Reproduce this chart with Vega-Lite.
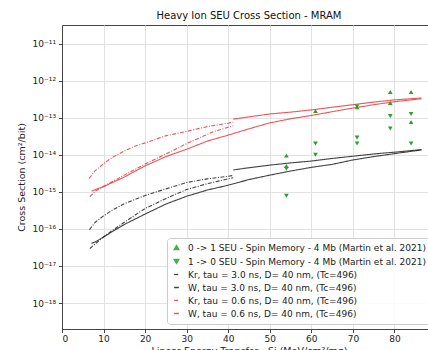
{
  "$schema": "https://vega.github.io/schema/vega-lite/v6.json",
  "autosize": {"type": "none"},
  "padding": {"left": 62, "top": 25, "right": 0, "bottom": 21},
  "width": 374,
  "height": 304,
  "background": "white",
  "title": {"text": "Heavy Ion SEU Cross Section - MRAM", "font": "DejaVu Sans", "fontSize": 10, "fontWeight": "normal", "color": "#111", "offset": 4},
  "config": {
    "view": {"stroke": "#444", "strokeWidth": 1},
    "axis": {"labelFont": "DejaVu Sans", "labelFontSize": 9, "labelColor": "#222", "titleFont": "DejaVu Sans", "titleFontSize": 9.5, "titleFontWeight": "normal", "titleColor": "#222", "tickColor": "#444", "domainColor": "#444", "gridColor": "#e2e2e2", "gridWidth": 1, "tickSize": 3.5, "labelPadding": 2},
    "legend": {"labelFont": "DejaVu Sans", "labelFontSize": 9, "labelColor": "#222", "labelLimit": 400, "orient": "bottom-right", "offset": 5, "padding": 5, "rowPadding": 3, "labelOffset": 7, "symbolStrokeWidth": 1.3,
      "fillColor": "rgba(255,255,255,0.85)", "strokeColor": "#cccccc", "cornerRadius": 3}
  },
  "datasets": {
    "lines": [
      {"series": "Kr, tau = 3.0 ns, D= 40 nm, (Tc=496)", "curve": "a", "let": 6.6, "xs": 9.55e-17},
      {"series": "Kr, tau = 3.0 ns, D= 40 nm, (Tc=496)", "curve": "a", "let": 8, "xs": 1.51e-16},
      {"series": "Kr, tau = 3.0 ns, D= 40 nm, (Tc=496)", "curve": "a", "let": 10, "xs": 2.24e-16},
      {"series": "Kr, tau = 3.0 ns, D= 40 nm, (Tc=496)", "curve": "a", "let": 12, "xs": 3.16e-16},
      {"series": "Kr, tau = 3.0 ns, D= 40 nm, (Tc=496)", "curve": "a", "let": 15, "xs": 4.79e-16},
      {"series": "Kr, tau = 3.0 ns, D= 40 nm, (Tc=496)", "curve": "a", "let": 20, "xs": 7.94e-16},
      {"series": "Kr, tau = 3.0 ns, D= 40 nm, (Tc=496)", "curve": "a", "let": 25, "xs": 1.20e-15},
      {"series": "Kr, tau = 3.0 ns, D= 40 nm, (Tc=496)", "curve": "a", "let": 30, "xs": 1.78e-15},
      {"series": "Kr, tau = 3.0 ns, D= 40 nm, (Tc=496)", "curve": "a", "let": 35, "xs": 2.24e-15},
      {"series": "Kr, tau = 3.0 ns, D= 40 nm, (Tc=496)", "curve": "a", "let": 40, "xs": 2.63e-15},
      {"series": "Kr, tau = 3.0 ns, D= 40 nm, (Tc=496)", "curve": "a", "let": 41.2, "xs": 2.75e-15},
      {"series": "Kr, tau = 3.0 ns, D= 40 nm, (Tc=496)", "curve": "b", "let": 6.7, "xs": 2.95e-17},
      {"series": "Kr, tau = 3.0 ns, D= 40 nm, (Tc=496)", "curve": "b", "let": 8, "xs": 3.98e-17},
      {"series": "Kr, tau = 3.0 ns, D= 40 nm, (Tc=496)", "curve": "b", "let": 10, "xs": 6.03e-17},
      {"series": "Kr, tau = 3.0 ns, D= 40 nm, (Tc=496)", "curve": "b", "let": 12, "xs": 8.91e-17},
      {"series": "Kr, tau = 3.0 ns, D= 40 nm, (Tc=496)", "curve": "b", "let": 15, "xs": 1.51e-16},
      {"series": "Kr, tau = 3.0 ns, D= 40 nm, (Tc=496)", "curve": "b", "let": 20, "xs": 3.55e-16},
      {"series": "Kr, tau = 3.0 ns, D= 40 nm, (Tc=496)", "curve": "b", "let": 25, "xs": 6.61e-16},
      {"series": "Kr, tau = 3.0 ns, D= 40 nm, (Tc=496)", "curve": "b", "let": 30, "xs": 1.15e-15},
      {"series": "Kr, tau = 3.0 ns, D= 40 nm, (Tc=496)", "curve": "b", "let": 35, "xs": 1.66e-15},
      {"series": "Kr, tau = 3.0 ns, D= 40 nm, (Tc=496)", "curve": "b", "let": 40, "xs": 2.24e-15},
      {"series": "Kr, tau = 3.0 ns, D= 40 nm, (Tc=496)", "curve": "b", "let": 41.2, "xs": 2.40e-15},
      {"series": "W, tau = 3.0 ns, D= 40 nm, (Tc=496)", "curve": "c", "let": 7.1, "xs": 4.07e-17},
      {"series": "W, tau = 3.0 ns, D= 40 nm, (Tc=496)", "curve": "c", "let": 8, "xs": 4.47e-17},
      {"series": "W, tau = 3.0 ns, D= 40 nm, (Tc=496)", "curve": "c", "let": 10, "xs": 6.03e-17},
      {"series": "W, tau = 3.0 ns, D= 40 nm, (Tc=496)", "curve": "c", "let": 12, "xs": 8.32e-17},
      {"series": "W, tau = 3.0 ns, D= 40 nm, (Tc=496)", "curve": "c", "let": 15, "xs": 1.32e-16},
      {"series": "W, tau = 3.0 ns, D= 40 nm, (Tc=496)", "curve": "c", "let": 20, "xs": 2.51e-16},
      {"series": "W, tau = 3.0 ns, D= 40 nm, (Tc=496)", "curve": "c", "let": 25, "xs": 4.68e-16},
      {"series": "W, tau = 3.0 ns, D= 40 nm, (Tc=496)", "curve": "c", "let": 30, "xs": 7.59e-16},
      {"series": "W, tau = 3.0 ns, D= 40 nm, (Tc=496)", "curve": "c", "let": 35, "xs": 1.12e-15},
      {"series": "W, tau = 3.0 ns, D= 40 nm, (Tc=496)", "curve": "c", "let": 40, "xs": 1.51e-15},
      {"series": "W, tau = 3.0 ns, D= 40 nm, (Tc=496)", "curve": "c", "let": 45, "xs": 2.14e-15},
      {"series": "W, tau = 3.0 ns, D= 40 nm, (Tc=496)", "curve": "c", "let": 50, "xs": 2.82e-15},
      {"series": "W, tau = 3.0 ns, D= 40 nm, (Tc=496)", "curve": "c", "let": 55, "xs": 3.63e-15},
      {"series": "W, tau = 3.0 ns, D= 40 nm, (Tc=496)", "curve": "c", "let": 60, "xs": 4.57e-15},
      {"series": "W, tau = 3.0 ns, D= 40 nm, (Tc=496)", "curve": "c", "let": 65, "xs": 5.50e-15},
      {"series": "W, tau = 3.0 ns, D= 40 nm, (Tc=496)", "curve": "c", "let": 70, "xs": 7.24e-15},
      {"series": "W, tau = 3.0 ns, D= 40 nm, (Tc=496)", "curve": "c", "let": 75, "xs": 8.91e-15},
      {"series": "W, tau = 3.0 ns, D= 40 nm, (Tc=496)", "curve": "c", "let": 80, "xs": 1.07e-14},
      {"series": "W, tau = 3.0 ns, D= 40 nm, (Tc=496)", "curve": "c", "let": 86.5, "xs": 1.35e-14},
      {"series": "W, tau = 3.0 ns, D= 40 nm, (Tc=496)", "curve": "d", "let": 41.2, "xs": 3.89e-15},
      {"series": "W, tau = 3.0 ns, D= 40 nm, (Tc=496)", "curve": "d", "let": 45, "xs": 4.47e-15},
      {"series": "W, tau = 3.0 ns, D= 40 nm, (Tc=496)", "curve": "d", "let": 50, "xs": 5.25e-15},
      {"series": "W, tau = 3.0 ns, D= 40 nm, (Tc=496)", "curve": "d", "let": 55, "xs": 6.03e-15},
      {"series": "W, tau = 3.0 ns, D= 40 nm, (Tc=496)", "curve": "d", "let": 60, "xs": 6.76e-15},
      {"series": "W, tau = 3.0 ns, D= 40 nm, (Tc=496)", "curve": "d", "let": 65, "xs": 7.94e-15},
      {"series": "W, tau = 3.0 ns, D= 40 nm, (Tc=496)", "curve": "d", "let": 70, "xs": 9.12e-15},
      {"series": "W, tau = 3.0 ns, D= 40 nm, (Tc=496)", "curve": "d", "let": 75, "xs": 1.05e-14},
      {"series": "W, tau = 3.0 ns, D= 40 nm, (Tc=496)", "curve": "d", "let": 80, "xs": 1.17e-14},
      {"series": "W, tau = 3.0 ns, D= 40 nm, (Tc=496)", "curve": "d", "let": 86.5, "xs": 1.38e-14},
      {"series": "Kr, tau = 0.6 ns, D= 40 nm, (Tc=496)", "curve": "e", "let": 6.5, "xs": 2.29e-15},
      {"series": "Kr, tau = 0.6 ns, D= 40 nm, (Tc=496)", "curve": "e", "let": 8, "xs": 3.72e-15},
      {"series": "Kr, tau = 0.6 ns, D= 40 nm, (Tc=496)", "curve": "e", "let": 10, "xs": 5.75e-15},
      {"series": "Kr, tau = 0.6 ns, D= 40 nm, (Tc=496)", "curve": "e", "let": 12, "xs": 8.32e-15},
      {"series": "Kr, tau = 0.6 ns, D= 40 nm, (Tc=496)", "curve": "e", "let": 15, "xs": 1.26e-14},
      {"series": "Kr, tau = 0.6 ns, D= 40 nm, (Tc=496)", "curve": "e", "let": 17.5, "xs": 1.70e-14},
      {"series": "Kr, tau = 0.6 ns, D= 40 nm, (Tc=496)", "curve": "e", "let": 20, "xs": 2.09e-14},
      {"series": "Kr, tau = 0.6 ns, D= 40 nm, (Tc=496)", "curve": "e", "let": 25, "xs": 3.24e-14},
      {"series": "Kr, tau = 0.6 ns, D= 40 nm, (Tc=496)", "curve": "e", "let": 30, "xs": 4.27e-14},
      {"series": "Kr, tau = 0.6 ns, D= 40 nm, (Tc=496)", "curve": "e", "let": 35, "xs": 5.75e-14},
      {"series": "Kr, tau = 0.6 ns, D= 40 nm, (Tc=496)", "curve": "e", "let": 40, "xs": 7.08e-14},
      {"series": "Kr, tau = 0.6 ns, D= 40 nm, (Tc=496)", "curve": "e", "let": 41.2, "xs": 7.59e-14},
      {"series": "Kr, tau = 0.6 ns, D= 40 nm, (Tc=496)", "curve": "f", "let": 6.7, "xs": 7.41e-16},
      {"series": "Kr, tau = 0.6 ns, D= 40 nm, (Tc=496)", "curve": "f", "let": 8, "xs": 1.05e-15},
      {"series": "Kr, tau = 0.6 ns, D= 40 nm, (Tc=496)", "curve": "f", "let": 10, "xs": 1.41e-15},
      {"series": "Kr, tau = 0.6 ns, D= 40 nm, (Tc=496)", "curve": "f", "let": 15, "xs": 2.82e-15},
      {"series": "Kr, tau = 0.6 ns, D= 40 nm, (Tc=496)", "curve": "f", "let": 20, "xs": 5.62e-15},
      {"series": "Kr, tau = 0.6 ns, D= 40 nm, (Tc=496)", "curve": "f", "let": 25, "xs": 1.05e-14},
      {"series": "Kr, tau = 0.6 ns, D= 40 nm, (Tc=496)", "curve": "f", "let": 30, "xs": 2.0e-14},
      {"series": "Kr, tau = 0.6 ns, D= 40 nm, (Tc=496)", "curve": "f", "let": 36.4, "xs": 4.17e-14},
      {"series": "Kr, tau = 0.6 ns, D= 40 nm, (Tc=496)", "curve": "f", "let": 40, "xs": 5.50e-14},
      {"series": "Kr, tau = 0.6 ns, D= 40 nm, (Tc=496)", "curve": "f", "let": 41.2, "xs": 6.03e-14},
      {"series": "W, tau = 0.6 ns, D= 40 nm, (Tc=496)", "curve": "g", "let": 7.1, "xs": 1.05e-15},
      {"series": "W, tau = 0.6 ns, D= 40 nm, (Tc=496)", "curve": "g", "let": 10, "xs": 1.38e-15},
      {"series": "W, tau = 0.6 ns, D= 40 nm, (Tc=496)", "curve": "g", "let": 15, "xs": 2.51e-15},
      {"series": "W, tau = 0.6 ns, D= 40 nm, (Tc=496)", "curve": "g", "let": 20, "xs": 5.01e-15},
      {"series": "W, tau = 0.6 ns, D= 40 nm, (Tc=496)", "curve": "g", "let": 25, "xs": 8.91e-15},
      {"series": "W, tau = 0.6 ns, D= 40 nm, (Tc=496)", "curve": "g", "let": 30, "xs": 1.41e-14},
      {"series": "W, tau = 0.6 ns, D= 40 nm, (Tc=496)", "curve": "g", "let": 35, "xs": 2.34e-14},
      {"series": "W, tau = 0.6 ns, D= 40 nm, (Tc=496)", "curve": "g", "let": 40, "xs": 3.39e-14},
      {"series": "W, tau = 0.6 ns, D= 40 nm, (Tc=496)", "curve": "g", "let": 45, "xs": 5.01e-14},
      {"series": "W, tau = 0.6 ns, D= 40 nm, (Tc=496)", "curve": "g", "let": 50, "xs": 7.24e-14},
      {"series": "W, tau = 0.6 ns, D= 40 nm, (Tc=496)", "curve": "g", "let": 55, "xs": 9.33e-14},
      {"series": "W, tau = 0.6 ns, D= 40 nm, (Tc=496)", "curve": "g", "let": 60, "xs": 1.15e-13},
      {"series": "W, tau = 0.6 ns, D= 40 nm, (Tc=496)", "curve": "g", "let": 65, "xs": 1.45e-13},
      {"series": "W, tau = 0.6 ns, D= 40 nm, (Tc=496)", "curve": "g", "let": 70, "xs": 1.82e-13},
      {"series": "W, tau = 0.6 ns, D= 40 nm, (Tc=496)", "curve": "g", "let": 75, "xs": 2.24e-13},
      {"series": "W, tau = 0.6 ns, D= 40 nm, (Tc=496)", "curve": "g", "let": 80, "xs": 2.69e-13},
      {"series": "W, tau = 0.6 ns, D= 40 nm, (Tc=496)", "curve": "g", "let": 86.5, "xs": 3.24e-13},
      {"series": "W, tau = 0.6 ns, D= 40 nm, (Tc=496)", "curve": "h", "let": 41.2, "xs": 9.12e-14},
      {"series": "W, tau = 0.6 ns, D= 40 nm, (Tc=496)", "curve": "h", "let": 45, "xs": 1.05e-13},
      {"series": "W, tau = 0.6 ns, D= 40 nm, (Tc=496)", "curve": "h", "let": 50, "xs": 1.26e-13},
      {"series": "W, tau = 0.6 ns, D= 40 nm, (Tc=496)", "curve": "h", "let": 55, "xs": 1.41e-13},
      {"series": "W, tau = 0.6 ns, D= 40 nm, (Tc=496)", "curve": "h", "let": 60, "xs": 1.62e-13},
      {"series": "W, tau = 0.6 ns, D= 40 nm, (Tc=496)", "curve": "h", "let": 65, "xs": 1.91e-13},
      {"series": "W, tau = 0.6 ns, D= 40 nm, (Tc=496)", "curve": "h", "let": 70, "xs": 2.24e-13},
      {"series": "W, tau = 0.6 ns, D= 40 nm, (Tc=496)", "curve": "h", "let": 75, "xs": 2.63e-13},
      {"series": "W, tau = 0.6 ns, D= 40 nm, (Tc=496)", "curve": "h", "let": 80, "xs": 3.02e-13},
      {"series": "W, tau = 0.6 ns, D= 40 nm, (Tc=496)", "curve": "h", "let": 86.5, "xs": 3.39e-13}
    ],
    "points": [
      {"series": "0 -> 1 SEU - Spin Memory - 4 Mb (Martin et al. 2021)", "let": 54, "xs": 9.55e-15},
      {"series": "0 -> 1 SEU - Spin Memory - 4 Mb (Martin et al. 2021)", "let": 54, "xs": 5.0e-15},
      {"series": "0 -> 1 SEU - Spin Memory - 4 Mb (Martin et al. 2021)", "let": 61, "xs": 1.51e-13},
      {"series": "0 -> 1 SEU - Spin Memory - 4 Mb (Martin et al. 2021)", "let": 71, "xs": 1.9e-13},
      {"series": "0 -> 1 SEU - Spin Memory - 4 Mb (Martin et al. 2021)", "let": 79, "xs": 4.9e-13},
      {"series": "0 -> 1 SEU - Spin Memory - 4 Mb (Martin et al. 2021)", "let": 79, "xs": 2.5e-13},
      {"series": "0 -> 1 SEU - Spin Memory - 4 Mb (Martin et al. 2021)", "let": 84, "xs": 4.9e-13},
      {"series": "0 -> 1 SEU - Spin Memory - 4 Mb (Martin et al. 2021)", "let": 84, "xs": 7.6e-14},
      {"series": "1 -> 0 SEU - Spin Memory - 4 Mb (Martin et al. 2021)", "let": 54, "xs": 4.2e-15},
      {"series": "1 -> 0 SEU - Spin Memory - 4 Mb (Martin et al. 2021)", "let": 54, "xs": 7.8e-16},
      {"series": "1 -> 0 SEU - Spin Memory - 4 Mb (Martin et al. 2021)", "let": 61, "xs": 2.0e-14},
      {"series": "1 -> 0 SEU - Spin Memory - 4 Mb (Martin et al. 2021)", "let": 61, "xs": 1.0e-14},
      {"series": "1 -> 0 SEU - Spin Memory - 4 Mb (Martin et al. 2021)", "let": 71, "xs": 2.0e-13},
      {"series": "1 -> 0 SEU - Spin Memory - 4 Mb (Martin et al. 2021)", "let": 71, "xs": 2.9e-14},
      {"series": "1 -> 0 SEU - Spin Memory - 4 Mb (Martin et al. 2021)", "let": 71, "xs": 2.0e-14},
      {"series": "1 -> 0 SEU - Spin Memory - 4 Mb (Martin et al. 2021)", "let": 79, "xs": 1.1e-13},
      {"series": "1 -> 0 SEU - Spin Memory - 4 Mb (Martin et al. 2021)", "let": 79, "xs": 5.1e-14},
      {"series": "1 -> 0 SEU - Spin Memory - 4 Mb (Martin et al. 2021)", "let": 84, "xs": 1.26e-13},
      {"series": "1 -> 0 SEU - Spin Memory - 4 Mb (Martin et al. 2021)", "let": 84, "xs": 2.0e-14}
    ]
  },
  "encoding": {
    "x": {"field": "let", "type": "quantitative", "scale": {"domain": [0, 90], "nice": false, "zero": false},
      "axis": {"values": [0, 10, 20, 30, 40, 50, 60, 70, 80], "title": "Linear Energy Transfer - Si (MeV/cm²/mg)", "titlePadding": 2, "grid": true}},
    "y": {"field": "xs", "type": "quantitative", "scale": {"type": "log", "domain": [1.995e-19, 3.16e-11], "nice": false},
      "axis": {"values": [1e-18, 1e-17, 1e-16, 1e-15, 1e-14, 1e-13, 1e-12, 1e-11], "title": "Cross Section (cm²/bit)", "titlePadding": 6, "labelPadding": 3, "grid": true,
        "labelExpr": "'10⁻¹' + substring('⁰¹²³⁴⁵⁶⁷⁸⁹', -round(log(datum.value)/LN10)-10, -round(log(datum.value)/LN10)-9)"}},
    "color": {"field": "series", "type": "nominal",
      "scale": {"domain": [
        "0 -> 1 SEU - Spin Memory - 4 Mb (Martin et al. 2021)",
        "1 -> 0 SEU - Spin Memory - 4 Mb (Martin et al. 2021)",
        "Kr, tau = 3.0 ns, D= 40 nm, (Tc=496)",
        "W, tau = 3.0 ns, D= 40 nm, (Tc=496)",
        "Kr, tau = 0.6 ns, D= 40 nm, (Tc=496)",
        "W, tau = 0.6 ns, D= 40 nm, (Tc=496)"],
        "range": ["#2ca02c", "#2ca02c", "#222222", "#222222", "#e8383b", "#e8383b"]},
      "legend": {"title": null}
    }
  },
  "layer": [
    {
      "data": {"name": "lines"},
      "mark": {"type": "line", "strokeWidth": 1.1, "opacity": 0.85, "clip": true},
      "encoding": {
        "detail": {"field": "curve"},
        "strokeDash": {"field": "series", "type": "nominal", "legend": {"title": null},
          "scale": {"domain": [
            "0 -> 1 SEU - Spin Memory - 4 Mb (Martin et al. 2021)",
            "1 -> 0 SEU - Spin Memory - 4 Mb (Martin et al. 2021)",
            "Kr, tau = 3.0 ns, D= 40 nm, (Tc=496)",
            "W, tau = 3.0 ns, D= 40 nm, (Tc=496)",
            "Kr, tau = 0.6 ns, D= 40 nm, (Tc=496)",
            "W, tau = 0.6 ns, D= 40 nm, (Tc=496)"],
            "range": [[1, 0], [1, 0], [4, 1.5, 1, 1.5], [1, 0], [4, 1.5, 1, 1.5], [1, 0]]}}
      }
    },
    {
      "data": {"name": "points"},
      "mark": {"type": "point", "filled": true, "opacity": 1},
      "encoding": {
        "shape": {"field": "series", "type": "nominal", "legend": {"title": null},
          "scale": {"domain": [
            "0 -> 1 SEU - Spin Memory - 4 Mb (Martin et al. 2021)",
            "1 -> 0 SEU - Spin Memory - 4 Mb (Martin et al. 2021)",
            "Kr, tau = 3.0 ns, D= 40 nm, (Tc=496)",
            "W, tau = 3.0 ns, D= 40 nm, (Tc=496)",
            "Kr, tau = 0.6 ns, D= 40 nm, (Tc=496)",
            "W, tau = 0.6 ns, D= 40 nm, (Tc=496)"],
            "range": ["triangle-up", "triangle-down", "stroke", "stroke", "stroke", "stroke"]}},
        "size": {"field": "series", "type": "nominal", "legend": {"title": null},
          "scale": {"domain": [
            "0 -> 1 SEU - Spin Memory - 4 Mb (Martin et al. 2021)",
            "1 -> 0 SEU - Spin Memory - 4 Mb (Martin et al. 2021)",
            "Kr, tau = 3.0 ns, D= 40 nm, (Tc=496)",
            "W, tau = 3.0 ns, D= 40 nm, (Tc=496)",
            "Kr, tau = 0.6 ns, D= 40 nm, (Tc=496)",
            "W, tau = 0.6 ns, D= 40 nm, (Tc=496)"],
            "range": [22, 22, 324, 324, 324, 324]}}
      }
    }
  ]
}
